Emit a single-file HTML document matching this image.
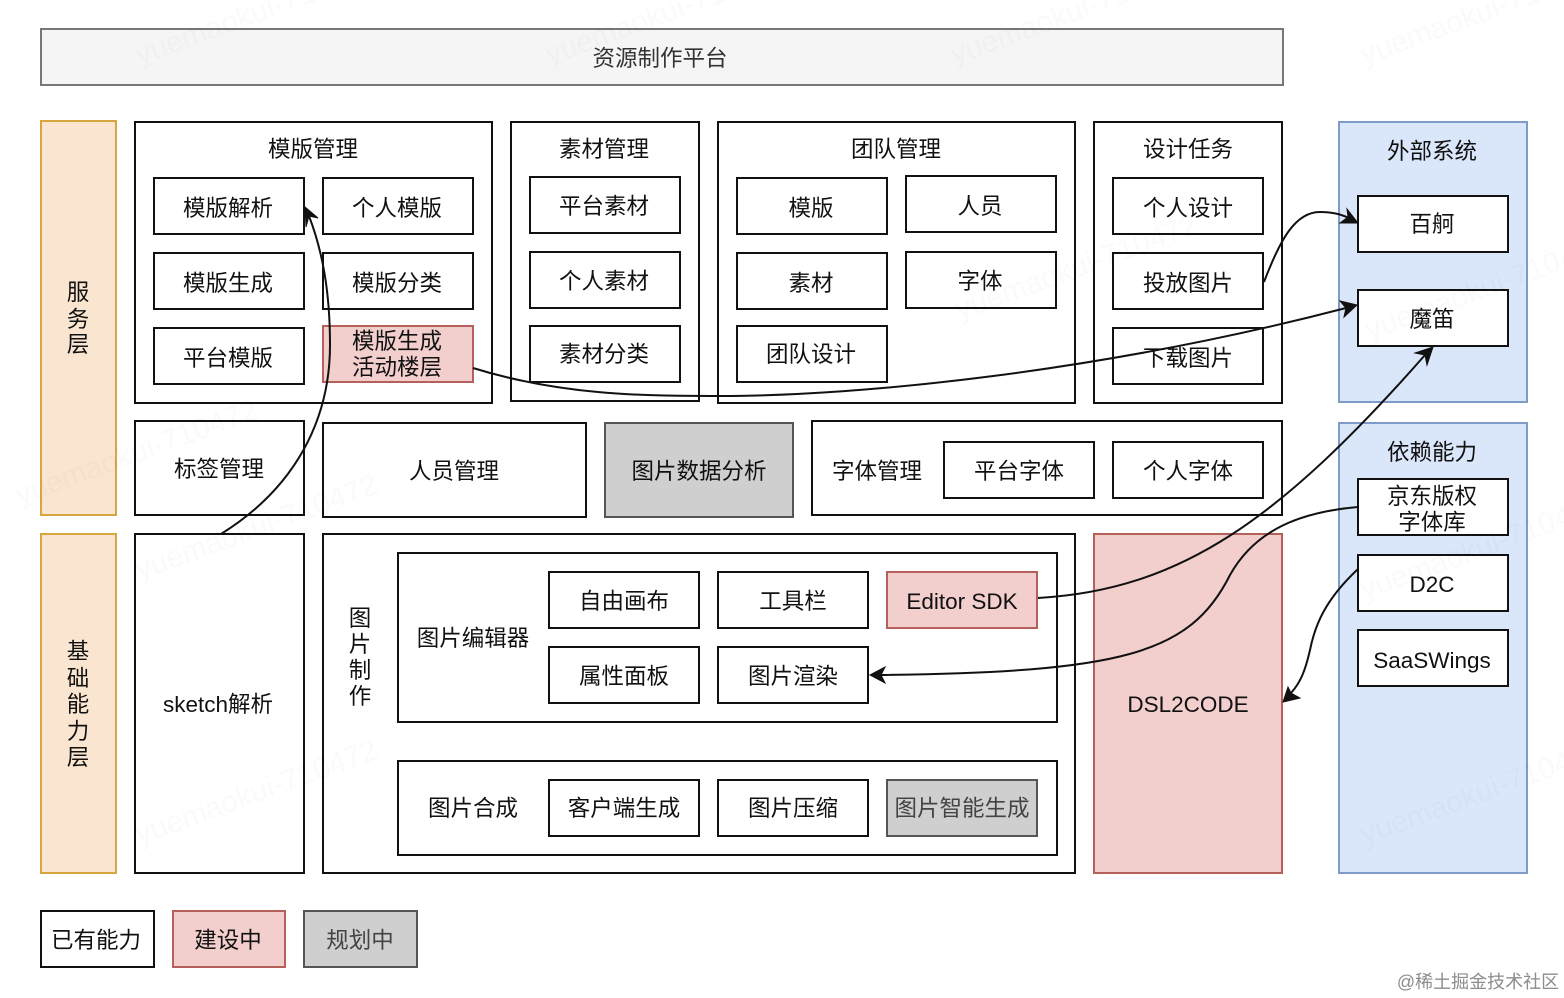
<!DOCTYPE html>
<html><head><meta charset="utf-8"><style>
html,body{margin:0;padding:0;background:#fff}
svg{display:block}
text{font-family:"Liberation Sans","Noto Sans CJK SC",sans-serif;font-size:22.5px;fill:#111;text-anchor:middle}
.b rect{fill:#fff;stroke:#111;stroke-width:2}
rect.r{fill:#f2cfcd!important;stroke:#b5605a!important}
rect.g{fill:#cfcfcf!important;stroke:#555!important}
rect.o{fill:#fae6d0!important;stroke:#d7a63f!important}
rect.u{fill:#dae6f9!important;stroke:#7f9cc9!important}
rect.w{fill:#f5f5f5!important;stroke:#777!important}
path{fill:none;stroke:#111;stroke-width:2}
polygon{fill:#111;stroke:#111;stroke-width:1}
text.wm{font-size:30px;fill:#000;opacity:.015;text-anchor:start}
</style></head><body>
<svg width="1564" height="998" viewBox="0 0 1564 998" xmlns="http://www.w3.org/2000/svg">
<g class="b">
<rect class="w" x="41" y="29" width="1242" height="56"/>
<rect class="o" x="41" y="121" width="75" height="394"/>
<rect class="o" x="41" y="534" width="75" height="339"/>
<rect x="135" y="122" width="357" height="281"/>
<rect x="511" y="122" width="188" height="279"/>
<rect x="718" y="122" width="357" height="281"/>
<rect x="1094" y="122" width="188" height="281"/>
<rect class="u" x="1339" y="122" width="188" height="280"/>
<rect class="u" x="1339" y="423" width="188" height="450"/>
<rect x="154" y="178" width="150" height="56"/>
<rect x="323" y="178" width="150" height="56"/>
<rect x="154" y="253" width="150" height="56"/>
<rect x="323" y="253" width="150" height="56"/>
<rect x="154" y="328" width="150" height="56"/>
<rect class="r" x="323" y="326" width="150" height="56"/>
<rect x="530" y="177" width="150" height="56"/>
<rect x="530" y="252" width="150" height="56"/>
<rect x="530" y="326" width="150" height="56"/>
<rect x="737" y="178" width="150" height="56"/>
<rect x="906" y="176" width="150" height="56"/>
<rect x="737" y="253" width="150" height="56"/>
<rect x="906" y="252" width="150" height="56"/>
<rect x="737" y="326" width="150" height="56"/>
<rect x="1113" y="178" width="150" height="56"/>
<rect x="1113" y="253" width="150" height="56"/>
<rect x="1113" y="328" width="150" height="56"/>
<rect x="1358" y="196" width="150" height="56"/>
<rect x="1358" y="290" width="150" height="56"/>
<rect x="135" y="421" width="169" height="94"/>
<rect x="323" y="423" width="263" height="94"/>
<rect class="g" x="605" y="423" width="188" height="94"/>
<rect x="812" y="421" width="470" height="94"/>
<rect x="944" y="442" width="150" height="56"/>
<rect x="1113" y="442" width="150" height="56"/>
<rect x="135" y="534" width="169" height="339"/>
<rect x="323" y="534" width="752" height="339"/>
<rect class="r" x="1094" y="534" width="188" height="339"/>
<rect x="398" y="553" width="659" height="169"/>
<rect x="398" y="761" width="659" height="94"/>
<rect x="549" y="572" width="150" height="56"/>
<rect x="718" y="572" width="150" height="56"/>
<rect class="r" x="887" y="572" width="150" height="56"/>
<rect x="549" y="647" width="150" height="56"/>
<rect x="718" y="647" width="150" height="56"/>
<rect x="549" y="780" width="150" height="56"/>
<rect x="718" y="780" width="150" height="56"/>
<rect class="g" x="887" y="780" width="150" height="56"/>
<rect x="1358" y="479" width="150" height="56"/>
<rect x="1358" y="555" width="150" height="56"/>
<rect x="1358" y="630" width="150" height="56"/>
<rect x="41" y="911" width="113" height="56"/>
<rect class="r" x="173" y="911" width="112" height="56"/>
<rect class="g" x="304" y="911" width="113" height="56"/>
</g>

<path d="M221 534C295 488 330 420 330 345C330 290 322 250 309 216"/>
<polygon points="305,207 318,218 309,216 306,227"/>
<path d="M473 368C560 395 640 396 720 396C860 396 1100 372 1346 308"/>
<polygon points="1357,305 1340,301 1346,308 1344,317"/>
<path d="M1264 282C1280 240 1295 212 1320 212C1332 212 1340 214 1349 218"/>
<polygon points="1358,223 1347,209 1348,217 1340,223"/>
<path d="M1038 598C1180 590 1280 520 1425 355"/>
<polygon points="1433,347 1427,365 1425,355 1415,353"/>
<path d="M1358 507C1300 512 1255 530 1230 575C1190 655 1120 672 880 675"/>
<polygon points="870,675 885,667 881,675 885,683"/>
<path d="M1358 569C1325 600 1315 625 1310 650C1305 672 1300 683 1291 693"/>
<polygon points="1283,702 1288,687 1291,693 1300,698"/>

<text x="660" y="66" style="fill:#333">资源制作平台</text>
<text x="78" y="300">服</text><text x="78" y="327">务</text><text x="78" y="352">层</text>
<text x="78" y="659">基</text><text x="78" y="686">础</text><text x="78" y="712">能</text><text x="78" y="739">力</text><text x="78" y="765">层</text>
<text x="313" y="157">模版管理</text><text x="604" y="157">素材管理</text><text x="896" y="157">团队管理</text><text x="1188" y="157">设计任务</text><text x="1432" y="159">外部系统</text><text x="1432" y="460">依赖能力</text>
<text x="228" y="216">模版解析</text><text x="397" y="216">个人模版</text>
<text x="228" y="291">模版生成</text><text x="397" y="291">模版分类</text>
<text x="228" y="366">平台模版</text>
<text x="397" y="349">模版生成</text><text x="397" y="375">活动楼层</text>
<text x="604" y="214">平台素材</text><text x="604" y="289">个人素材</text><text x="604" y="362">素材分类</text>
<text x="811" y="216">模版</text><text x="980" y="214">人员</text><text x="811" y="291">素材</text><text x="980" y="289">字体</text><text x="811" y="362">团队设计</text>
<text x="1188" y="216">个人设计</text><text x="1188" y="291">投放图片</text><text x="1188" y="366">下载图片</text>
<text x="1432" y="232">百舸</text><text x="1432" y="327">魔笛</text>
<text x="219" y="477">标签管理</text><text x="454" y="479">人员管理</text><text x="699" y="479">图片数据分析</text>
<text x="877" y="479">字体管理</text><text x="1019" y="479">平台字体</text><text x="1188" y="479">个人字体</text>
<text x="218" y="712">sketch解析</text>
<text x="360" y="626">图</text><text x="360" y="652">片</text><text x="360" y="678">制</text><text x="360" y="704">作</text>
<text x="473" y="646">图片编辑器</text><text x="473" y="816">图片合成</text>
<text x="624" y="609">自由画布</text><text x="793" y="609">工具栏</text><text x="962" y="609">Editor SDK</text>
<text x="624" y="684">属性面板</text><text x="793" y="684">图片渲染</text>
<text x="624" y="816">客户端生成</text><text x="793" y="816">图片压缩</text><text x="962" y="816" style="fill:#444">图片智能生成</text>
<text x="1188" y="712">DSL2CODE</text>
<text x="1432" y="504">京东版权</text><text x="1432" y="530">字体库</text>
<text x="1432" y="592">D2C</text><text x="1432" y="668">SaaSWings</text>
<text x="96" y="948">已有能力</text><text x="228" y="948">建设中</text><text x="360" y="948" style="fill:#444">规划中</text>
<text x="1478" y="988" style="font-size:18px;fill:#8c8c8c">@稀土掘金技术社区</text>
<g>
<text class="wm" transform="translate(140,65) rotate(-20)">yuemaokui-710472</text>
<text class="wm" transform="translate(550,65) rotate(-20)">yuemaokui-710472</text>
<text class="wm" transform="translate(955,65) rotate(-20)">yuemaokui-710472</text>
<text class="wm" transform="translate(1365,65) rotate(-20)">yuemaokui-710472</text>
<text class="wm" transform="translate(20,505) rotate(-20)">yuemaokui-710472</text>
<text class="wm" transform="translate(1370,340) rotate(-20)">yuemaokui-710472</text>
<text class="wm" transform="translate(140,580) rotate(-20)">yuemaokui-710472</text>
<text class="wm" transform="translate(1365,600) rotate(-20)">yuemaokui-710472</text>
<text class="wm" transform="translate(140,845) rotate(-20)">yuemaokui-710472</text>
<text class="wm" transform="translate(1365,845) rotate(-20)">yuemaokui-710472</text>
<text class="wm" transform="translate(960,320) rotate(-20)">yuemaokui-710472</text>
</g>
</svg>
</body></html>
